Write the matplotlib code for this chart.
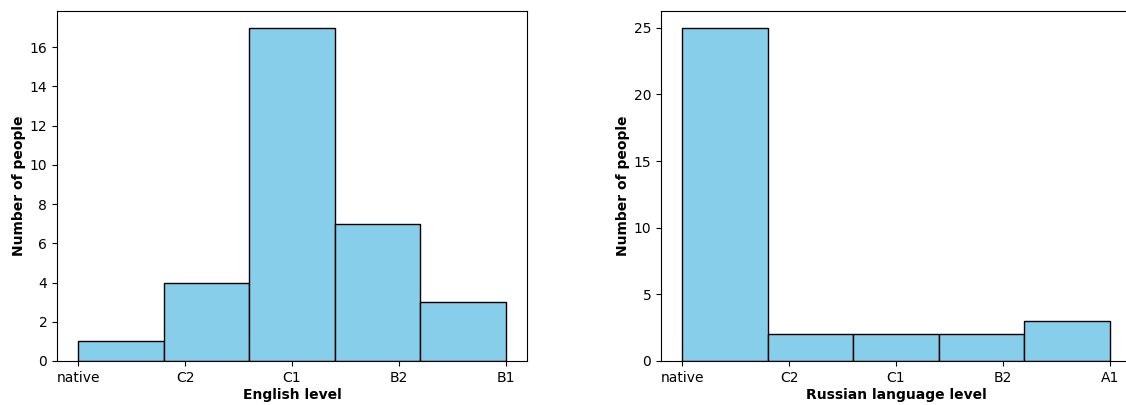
import numpy as np
import matplotlib
matplotlib.use("Agg")
import matplotlib.pyplot as plt

eng_levels = ["native", "C2", "C1", "B2", "B1"]
eng_counts = [1, 4, 17, 7, 3]

rus_levels = ["native", "C2", "C1", "B2", "A1"]
rus_counts = [25, 2, 2, 2, 3]

fig = plt.figure(figsize=(11.26, 4.05), dpi=100)
ax1 = fig.add_axes([57 / 1126, 44 / 405, 470 / 1126, 350 / 405])
ax2 = fig.add_axes([661 / 1126, 44 / 405, 470 / 1126, 350 / 405])


def level_hist(ax, levels, counts, xlabel):
    # rebuild the raw answers as category indices, then histogram them
    raw = np.repeat(np.arange(len(levels)), counts)
    ax.hist(raw, bins=5, color="skyblue", edgecolor="black")
    ax.set_xticks(np.arange(len(levels)))
    ax.set_xticklabels(levels)
    ax.set_xlabel(xlabel, fontweight="bold", labelpad=2.5)
    ax.set_ylabel("Number of people", fontweight="bold", labelpad=2.5)


level_hist(ax1, eng_levels, eng_counts, "English level")
level_hist(ax2, rus_levels, rus_counts, "Russian language level")

fig.savefig("out.png", dpi=100)
